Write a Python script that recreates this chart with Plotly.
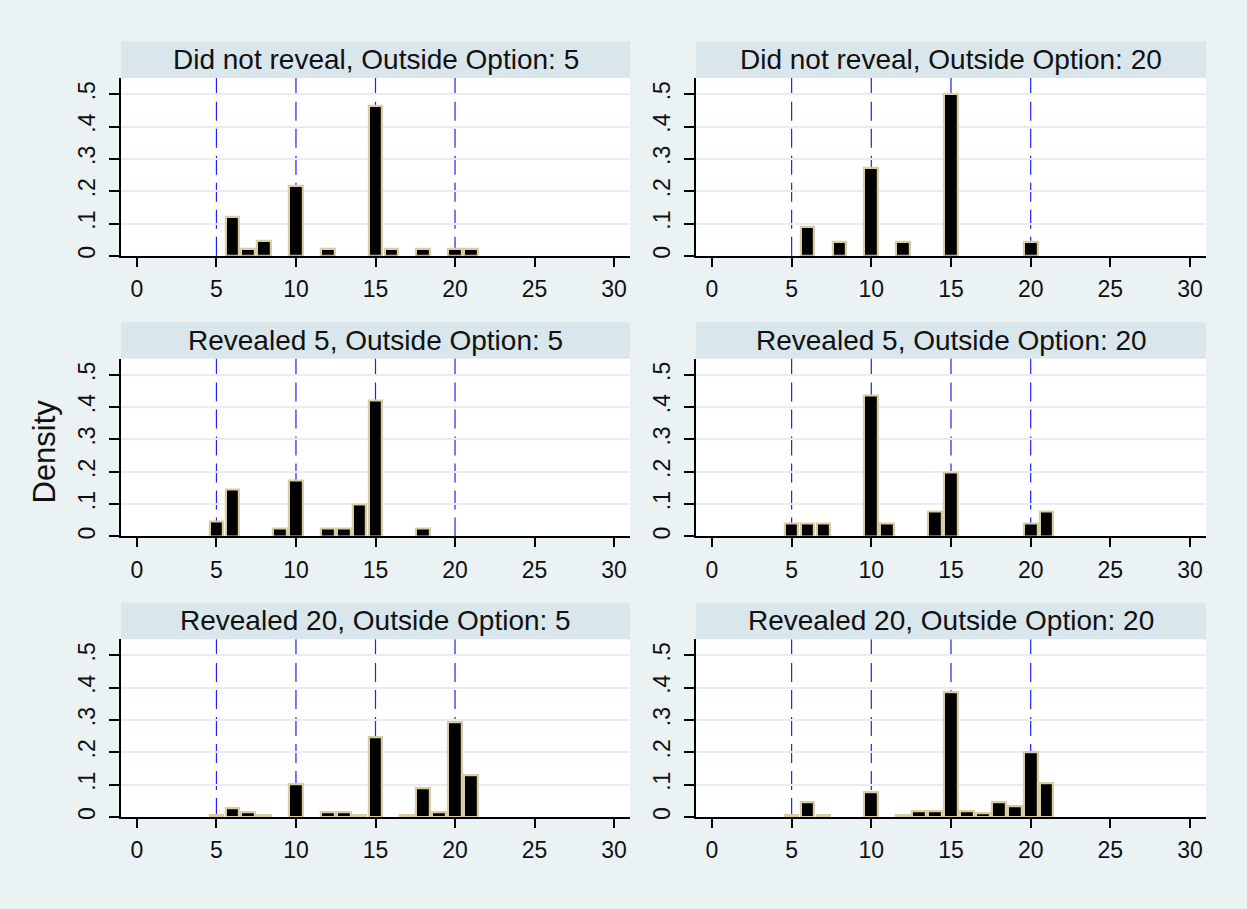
import plotly.graph_objects as go

# ---------------- data (density by integer value) ----------------
titles = [
    "Did not reveal, Outside Option: 5",
    "Did not reveal, Outside Option: 20",
    "Revealed 5, Outside Option: 5",
    "Revealed 5, Outside Option: 20",
    "Revealed 20, Outside Option: 5",
    "Revealed 20, Outside Option: 20",
]

dnr_oo5_x = [6, 7, 8, 10, 12, 15, 16, 18, 20, 21]
dnr_oo5_y = [0.120, 0.022, 0.047, 0.217, 0.022, 0.462, 0.022, 0.022, 0.022, 0.022]

dnr_oo20_x = [6, 8, 10, 12, 15, 20]
dnr_oo20_y = [0.090, 0.044, 0.272, 0.044, 0.500, 0.044]

r5_oo5_x = [5, 6, 9, 10, 12, 13, 14, 15, 18]
r5_oo5_y = [0.047, 0.146, 0.024, 0.172, 0.024, 0.024, 0.098, 0.420, 0.024]

r5_oo20_x = [5, 6, 7, 10, 11, 14, 15, 20, 21]
r5_oo20_y = [0.040, 0.040, 0.040, 0.437, 0.040, 0.078, 0.197, 0.040, 0.078]

r20_oo5_x = [5, 6, 7, 8, 10, 12, 13, 14, 15, 17, 18, 19, 20, 21]
r20_oo5_y = [0.006, 0.026, 0.016, 0.006, 0.100, 0.016, 0.016, 0.006, 0.248, 0.006, 0.090, 0.016, 0.292, 0.129]

r20_oo20_x = [5, 6, 7, 10, 12, 13, 14, 15, 16, 17, 18, 19, 20, 21]
r20_oo20_y = [0.005, 0.046, 0.005, 0.076, 0.005, 0.019, 0.019, 0.386, 0.019, 0.012, 0.046, 0.033, 0.200, 0.104]

panel_x = [dnr_oo5_x, dnr_oo20_x, r5_oo5_x, r5_oo20_x, r20_oo5_x, r20_oo20_x]
panel_y = [dnr_oo5_y, dnr_oo20_y, r5_oo5_y, r5_oo20_y, r20_oo5_y, r20_oo20_y]

ref_lines = [5, 10, 15, 20]
x_ticks = [0, 5, 10, 15, 20, 25, 30]
y_ticks = [0, 0.1, 0.2, 0.3, 0.4, 0.5]
y_tick_labels = ["0", ".1", ".2", ".3", ".4", ".5"]

# ---------------- layout geometry ----------------
W, H = 1247, 909
BG = "#eaf2f3"
STRIP = "#d9e6eb"
GRID = "#e6eef0"
OUTLINE = "rgb(214,206,160)"
FONT = "Liberation Sans, Arial, sans-serif"

col_px = [(121, 630), (696, 1206)]
row_px = [(41.7, 78.3, 256.7), (323.2, 359.8, 538.2), (604.7, 641.3, 819.7)]  # strip top, plot top, plot bottom

fig = go.Figure()
shapes = []
annotations = []

for i in range(6):
    r, c = divmod(i, 2)
    ax = "" if i == 0 else str(i + 1)
    xa, ya = "x" + ax, "y" + ax
    x0, x1 = col_px[c]
    st, pt, pb = row_px[r]
    xdom = [x0 / W, x1 / W]
    ydom = [1 - pb / H, 1 - pt / H]

    fig.add_trace(go.Bar(
        x=panel_x[i], y=panel_y[i], width=0.86,
        marker=dict(color="black", line=dict(color=OUTLINE, width=2.2)),
        xaxis=xa, yaxis=ya, showlegend=False, hoverinfo="x+y",
    ))

    fig.layout["xaxis" + ax] = dict(
        domain=xdom, anchor=ya, range=[-1, 31], tickvals=x_ticks,
        showgrid=False, zeroline=False, showline=True, linecolor="black", linewidth=1.5,
        ticks="outside", ticklen=9, tickwidth=1.5, tickcolor="black",
        tickfont=dict(size=23, color="#111", family=FONT),
        ticklabelstandoff=3,
    )
    fig.layout["yaxis" + ax] = dict(
        domain=ydom, anchor=xa, range=[0, 0.55], tickvals=y_ticks, ticktext=y_tick_labels,
        tickangle=-90, showgrid=True, gridcolor=GRID, gridwidth=1.5, zeroline=False,
        showline=True, linecolor="black", linewidth=1.5,
        ticks="outside", ticklen=10, tickwidth=1.5, tickcolor="black",
        tickfont=dict(size=23, color="#111", family=FONT),
        ticklabelstandoff=5,
    )

    for v in ref_lines:
        shapes.append(dict(
            type="line", xref=xa, yref=ya + " domain", x0=v, x1=v, y0=0, y1=1,
            line=dict(color="#2020ff", width=1.2, dash="19px,8px"), layer="below",
        ))

    # strip
    shapes.append(dict(
        type="rect", xref="paper", yref="paper",
        x0=xdom[0], x1=xdom[1], y0=1 - pt / H, y1=1 - st / H,
        fillcolor=STRIP, line=dict(width=0), layer="below",
    ))
    annotations.append(dict(
        text=titles[i], xref="paper", yref="paper",
        x=(xdom[0] + xdom[1]) / 2, y=1 - (st + pt) / 2 / H,
        xanchor="center", yanchor="middle", showarrow=False,
        font=dict(size=28, color="#111", family=FONT),
    ))

annotations.append(dict(
    text="Density", xref="paper", yref="paper", x=45 / W, y=1 - 453 / H,
    xanchor="center", yanchor="middle", textangle=-90, showarrow=False,
    font=dict(size=31, color="#111", family=FONT),
))

fig.update_layout(
    width=W, height=H, margin=dict(l=0, r=0, t=0, b=0),
    paper_bgcolor=BG, plot_bgcolor="white", bargap=0,
    shapes=shapes, annotations=annotations,
)

fig.write_html("out.html", config={"displayModeBar": False})
